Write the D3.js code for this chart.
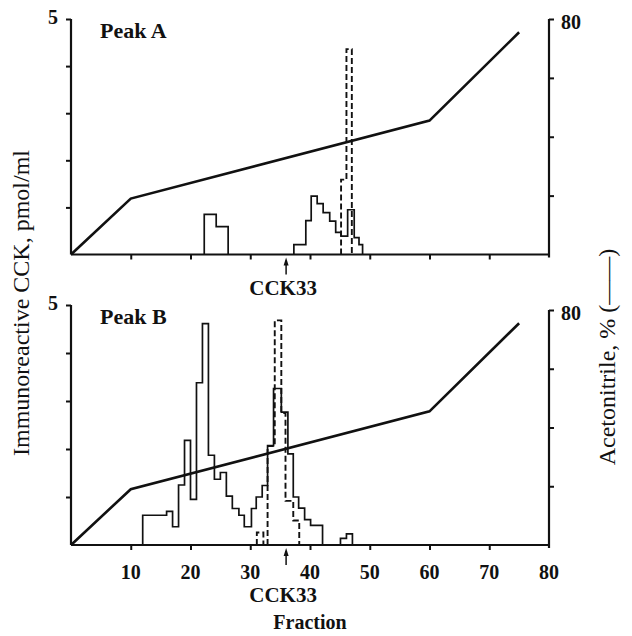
<!DOCTYPE html>
<html>
<head>
<meta charset="utf-8">
<script src="https://cdn.jsdelivr.net/npm/d3@7"></script>
<style>
  body { margin: 0; background: #fff; }
  svg { display: block; }
  text { font-family: "Liberation Serif", "Times New Roman", serif; fill: #111; }
</style>
</head>
<body>
<svg id="chart" width="632" height="636"></svg>
<script>
// ---- data ----
const fractionTicks = [10, 20, 30, 40, 50, 60, 70, 80];
const cckTicks = [1, 2, 3, 4, 5];
const acnTicks = [20, 40, 60, 80];
const cck33Fraction = 36;

// acetonitrile gradient (fraction, %)
const gradientFraction = [0, 10, 60, 75];
const gradientPct = [0, 19, 45.5, 75.5];

// Peak A, solid histogram (bin edges in fraction units, heights in pmol/ml)
const peakAEdges1 = [22.3, 24.3, 26.3];
const peakAValues1 = [0.85, 0.59];
const peakAEdges2 = [37.3, 39.3, 40.2, 41.2, 42.2, 43.3, 44.3, 45.2, 46.3, 47.4, 48.2, 48.8];
const peakAValues2 = [0.21, 0.72, 1.24, 1.08, 0.89, 0.71, 0.47, 0.39, 0.95, 0.36, 0.21];
// Peak A, dashed (CCK33 standard)
const peakADashEdges = [45.2, 46.1, 47.0];
const peakADashValues = [1.59, 4.36];

// Peak B, solid
const peakBEdges1 = [12, 16, 17, 18, 19, 20, 21, 22, 23, 24, 25, 26, 27, 28.1, 29.0, 30.2, 31.0, 32.0, 32.9, 33.9, 35.2, 36.3, 37.2, 38.1, 39.1, 40.1, 42.1];
const peakBValues1 = [0.62, 0.70, 0.38, 1.25, 2.18, 0.95, 3.38, 4.61, 1.87, 1.37, 1.51, 1.02, 0.76, 0.62, 0.38, 0.76, 1.0, 1.24, 2.07, 3.26, 2.77, 1.90, 1.0, 0.77, 0.53, 0.41];
const peakBEdges2 = [45.1, 46.1, 47.1];
const peakBValues2 = [0.14, 0.23];
// Peak B, dashed
const peakBDashEdges1 = [31.1, 32.2];
const peakBDashValues1 = [0.26];
const peakBDashEdges2 = [32.9, 34.1, 35.2, 35.9, 37.2, 38.2];
const peakBDashValues2 = [2.06, 4.68, 2.75, 0.92, 0.51];

// ---- drawing ----
const svg = d3.select("#chart");
const x = d3.scaleLinear().domain([0, 80]).range([71, 549]);

const panels = [
  {
    name: "Peak A", bottom: 254.5, top: 19, rtop: 19, xLabels: false,
    solid: [[peakAEdges1, peakAValues1], [peakAEdges2, peakAValues2]],
    dashed: [[peakADashEdges, peakADashValues]]
  },
  {
    name: "Peak B", bottom: 545, top: 305, rtop: 310, xLabels: true,
    solid: [[peakBEdges1, peakBValues1], [peakBEdges2, peakBValues2]],
    dashed: [[peakBDashEdges1, peakBDashValues1], [peakBDashEdges2, peakBDashValues2]]
  }
];

// build a step outline from bin edges and heights
function stepPoints(edges, values) {
  let pts = [[edges[0], 0]];
  values.forEach(function(v, i) {
    pts.push([edges[i], v]);
    pts.push([edges[i + 1], v]);
  });
  pts.push([edges[edges.length - 1], 0]);
  return pts;
}

panels.forEach(function(p) {
  let yL = d3.scaleLinear().domain([0, 5]).range([p.bottom, p.top]);
  let yR = d3.scaleLinear().domain([0, 80]).range([p.bottom, p.rtop]);
  let g = svg.append("g");

  // histograms
  let line = d3.line().x(d => x(d[0])).y(d => yL(d[1]));
  p.solid.forEach(function(s) {
    g.append("path")
      .attr("d", line(stepPoints(s[0], s[1])))
      .attr("fill", "none").attr("stroke", "#111").attr("stroke-width", 1.7);
  });
  p.dashed.forEach(function(s) {
    g.append("path")
      .attr("d", line(stepPoints(s[0], s[1])))
      .attr("fill", "none").attr("stroke", "#111").attr("stroke-width", 1.9)
      .attr("stroke-dasharray", "6,3");
  });

  // gradient line
  let grad = gradientFraction.map((f, i) => [f, gradientPct[i]]);
  g.append("path")
    .attr("d", d3.line().x(d => x(d[0])).y(d => yR(d[1]))(grad))
    .attr("fill", "none").attr("stroke", "#111").attr("stroke-width", 2.6);

  // axes
  let xAxis = d3.axisBottom(x).tickValues(fractionTicks.slice(0, -1)).tickSize(5).tickFormat("");
  let ax = g.append("g").attr("transform", "translate(0," + p.bottom + ")").call(xAxis);
  let left = g.append("g").attr("transform", "translate(" + x(0) + ",0)")
    .call(d3.axisLeft(yL).tickValues(cckTicks).tickSize(5).tickFormat(""));
  let right = g.append("g").attr("transform", "translate(" + x(80) + ",0)")
    .call(d3.axisRight(yR).tickValues(acnTicks).tickSize(5).tickFormat(""));
  [ax, left, right].forEach(function(a) {
    a.select(".domain").attr("stroke", "#111").attr("stroke-width", 2.2);
    a.selectAll(".tick line").attr("stroke", "#111").attr("stroke-width", 2);
  });
  // plain baseline across the panel
  left.select(".domain").attr("d", "M0," + p.top + "V" + p.bottom);
  right.select(".domain").attr("d", "M0," + p.rtop + "V" + (p.bottom + 3));
  ax.select(".domain").attr("d", "M" + x(0) + ",0H" + x(80));

  g.append("text").attr("x", 58).attr("y", yL(5) + 5)
    .attr("text-anchor", "end").attr("font-size", 20).attr("font-weight", "bold").text("5");
  g.append("text").attr("x", 561).attr("y", yR(80) + 10)
    .attr("font-size", 20).attr("font-weight", "bold").text("80");

  g.append("text").attr("x", 100).attr("y", p.top + 19)
    .attr("font-size", 22).attr("font-weight", "bold").text(p.name);

  // CCK33 marker arrow
  let ax0 = x(cck33Fraction);
  g.append("line").attr("x1", ax0).attr("x2", ax0)
    .attr("y1", p.bottom + 6).attr("y2", p.bottom + 20)
    .attr("stroke", "#111").attr("stroke-width", 1.5);
  g.append("path")
    .attr("d", "M" + ax0 + "," + (p.bottom + 3) + "l-2.5,8h5z")
    .attr("fill", "#111");

  if (p.xLabels) {
    g.selectAll(".xl").data(fractionTicks).enter().append("text")
      .attr("x", d => x(d)).attr("y", p.bottom + 34)
      .attr("text-anchor", "middle").attr("font-size", 20).attr("font-weight", "bold")
      .text(d => d);
    g.append("text").attr("x", ax0 - 3).attr("y", p.bottom + 57)
      .attr("text-anchor", "middle").attr("font-size", 21).attr("font-weight", "bold").text("CCK33");
  } else {
    g.append("text").attr("x", ax0 - 3).attr("y", p.bottom + 40)
      .attr("text-anchor", "middle").attr("font-size", 21).attr("font-weight", "bold").text("CCK33");
  }
});

// axis titles
svg.append("text").attr("x", 310).attr("y", 629)
  .attr("text-anchor", "middle").attr("font-size", 20).attr("font-weight", "bold").text("Fraction");
svg.append("text").attr("transform", "translate(29,303) rotate(-90)")
  .attr("text-anchor", "middle").attr("font-size", 24).text("Immunoreactive CCK, pmol/ml");
svg.append("text").attr("transform", "translate(615,357) rotate(-90)")
  .attr("text-anchor", "middle").attr("font-size", 24).text("Acetonitrile, % (——)");
</script>
</body>
</html>
